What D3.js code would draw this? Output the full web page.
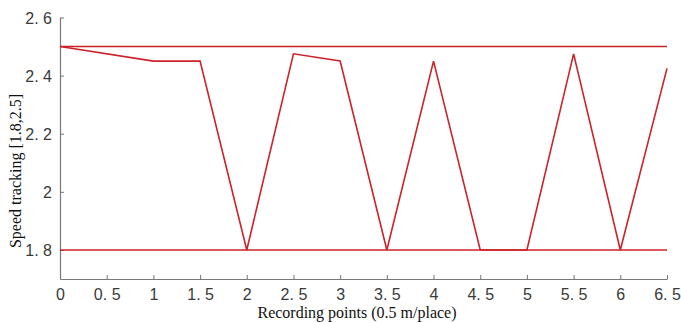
<!DOCTYPE html>
<html>
<head>
<meta charset="utf-8">
<script src="https://cdn.jsdelivr.net/npm/d3@7"></script>
<style>
  body { margin: 0; background: #fff; }
  svg { display: block; }
</style>
</head>
<body>
<div id="chart"></div>
<script>
'use strict';
// recording points and tracked speed
var points = [0, 1, 1.5, 2, 2.5, 3, 3.5, 4, 4.5, 5, 5.5, 6, 6.5];
var speed = [2.5, 2.45, 2.45, 1.8, 2.475, 2.45, 1.8, 2.45, 1.8, 1.8, 2.475, 1.8, 2.425];
var bounds = [1.8, 2.5];
var xTicks = [0, 0.5, 1, 1.5, 2, 2.5, 3, 3.5, 4, 4.5, 5, 5.5, 6, 6.5];
var yTicks = [1.8, 2, 2.2, 2.4, 2.6];

var width = 681,
    height = 323;
var margin = {left: 60, right: 14, top: 17.5, bottom: 44};

var svg = d3.select('#chart').append('svg')
    .attr('width', width)
    .attr('height', height);

var x = d3.scaleLinear().domain([0, 6.5]).range([margin.left, width - margin.right]);
var y = d3.scaleLinear().domain([1.7, 2.6]).range([height - margin.bottom, margin.top]);

// matlab-ish "2. 5" labels
var fmt = function (d) {
    var s = String(d);
    return s.indexOf('.') >= 0 ? s.replace('.', '. ') : s;
};

var xAxis = svg.append('g')
    .attr('transform', 'translate(0,' + y(1.7) + ')')
    .call(d3.axisBottom(x).tickValues(xTicks).tickSize(-4).tickPadding(10).tickFormat(fmt).tickSizeOuter(0));
var yAxis = svg.append('g')
    .attr('transform', 'translate(' + x(0) + ',0)')
    .call(d3.axisLeft(y).tickValues(yTicks).tickSize(-4).tickPadding(8).tickFormat(fmt).tickSizeOuter(0));

[xAxis, yAxis].forEach(function (g) {
    g.select('.domain').attr('stroke', '#777').attr('stroke-width', 1.2);
    g.selectAll('.tick line').attr('stroke', '#777');
    g.selectAll('.tick text')
        .attr('fill', '#3a3a3a')
        .style('font-family', 'Liberation Sans, Arial, sans-serif')
        .style('font-size', '16px');
});
yAxis.selectAll('.tick text').attr('dy', '0.36em');

// bound lines
svg.selectAll('line.bound').data(bounds).enter().append('line')
    .attr('class', 'bound')
    .attr('x1', x(0)).attr('x2', x(6.5))
    .attr('y1', function (d) { return y(d); })
    .attr('y2', function (d) { return y(d); })
    .attr('stroke', '#cc2229')
    .attr('stroke-width', 1.6);

var line = d3.line()
    .x(function (d, i) { return x(points[i]); })
    .y(function (d) { return y(d); });

svg.append('path')
    .datum(speed)
    .attr('d', line)
    .attr('fill', 'none')
    .attr('stroke', '#cc2229')
    .attr('stroke-width', 1.6)
    .attr('stroke-linejoin', 'miter');

svg.append('text')
    .attr('x', 357).attr('y', 318)
    .attr('text-anchor', 'middle')
    .style('font-family', 'Liberation Serif, Times New Roman, serif')
    .style('font-size', '16px')
    .attr('fill', '#111')
    .text('Recording points (0.5 m/place)');

svg.append('text')
    .attr('transform', 'translate(21,171) rotate(-90)')
    .attr('text-anchor', 'middle')
    .style('font-family', 'Liberation Serif, Times New Roman, serif')
    .style('font-size', '16px')
    .attr('fill', '#111')
    .text('Speed tracking [1.8,2.5]');
</script>
</body>
</html>
